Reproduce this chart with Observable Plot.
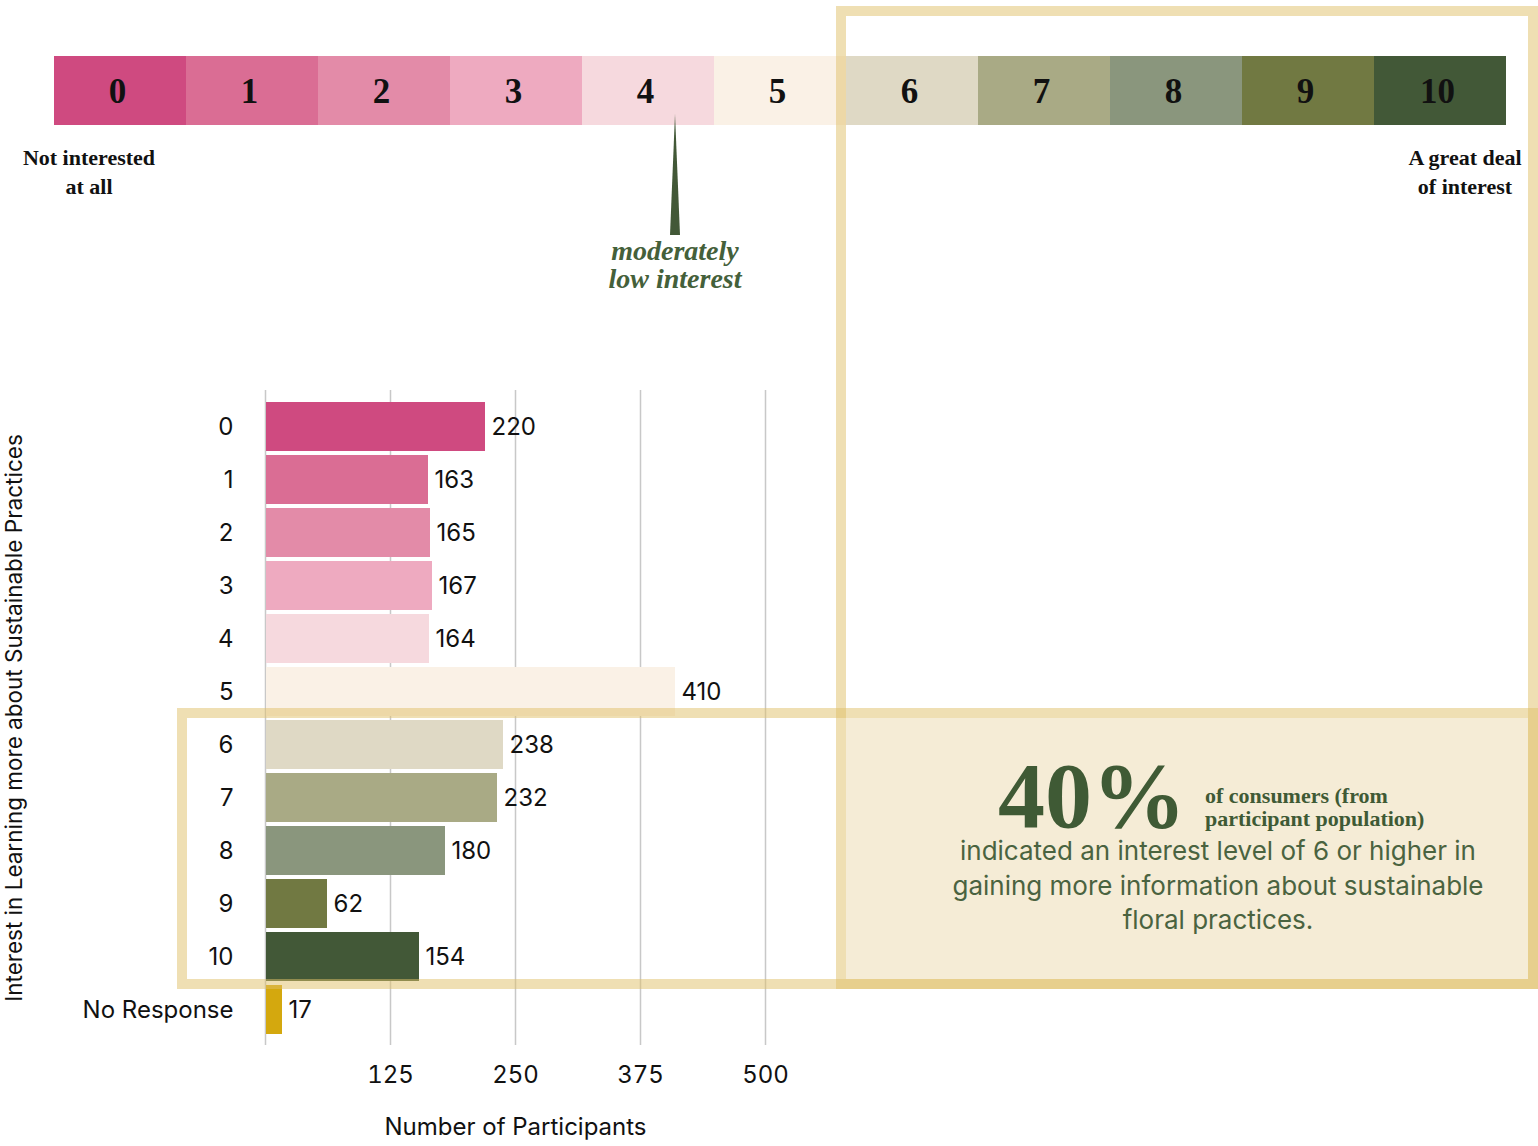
<!DOCTYPE html>
<html><head><meta charset="utf-8">
<script src="https://cdn.jsdelivr.net/npm/d3@7"></script>
<script src="https://cdn.jsdelivr.net/npm/@observablehq/plot@0.6"></script>
<style>
body{margin:0;background:#fff;}
#wrap{position:relative;width:1538px;height:1146px;overflow:hidden;background:#fff;}
#wrap > *{position:absolute;left:0;top:0;}
.box{box-sizing:border-box;border:10px solid rgba(224,192,104,0.5);}
</style></head><body><div id="wrap"></div>
<script>
// ---- data ----
const levels = ["0","1","2","3","4","5","6","7","8","9","10"];
const levelColors = ["#CF4A80","#DA6D94","#E38BA8","#EEAAC0","#F6D9DE","#FAF1E6","#DFD9C5","#A9AA85","#8A967D","#717942","#425837"];
const categories = ["0","1","2","3","4","5","6","7","8","9","10","No Response"];
const counts = [220,163,165,167,164,410,238,232,180,62,154,17];
const barColors = [...levelColors, "#D4A80E"];
const xTicks = [125,250,375,500];
const gridTicks = [0,125,250,375,500];
const scaleEnds = [["Not interested","at all"],["A great deal","of interest"]];
const pointerLabel = ["moderately","low interest"];
const bigStat = "40%";
const statSide = ["of consumers (from","participant population)"];
const statText = ["indicated an interest level of 6 or higher in","gaining more information about sustainable","floral practices."];

const SERIF = '"Liberation Serif","DejaVu Serif",serif';
const SANS = 'Inter, "Noto Sans", sans-serif';

const wrap = document.getElementById("wrap");

// ---- bar chart ----
const bars = categories.map((c,i)=>({category:c, count:counts[i], color:barColors[i]}));
const chart = Plot.plot({
  width:1538, height:1146,
  marginLeft:265, marginRight:1538-265-500, marginTop:390, marginBottom:101,
  style:{fontFamily:SANS, fontSize:"24px", color:"#111", background:"transparent", overflow:"visible"},
  x:{domain:[0,500]},
  y:{domain:categories, paddingInner:0.08, paddingOuter:0.16},
  color:{type:"identity"},
  marks:[
    Plot.gridX(gridTicks,{stroke:"#c8c8c8", strokeOpacity:1, strokeWidth:1.5}),
    Plot.barX(bars,{x:"count", y:"category", fill:"color", insetLeft:1}),
    Plot.text(bars,{x:"count", y:"category", text:d=>String(d.count), dx:6, textAnchor:"start", fill:"#111", fontSize:24}),
    Plot.axisX({ticks:xTicks, tickSize:0, tickPadding:20, fontSize:24, fill:"#111", label:"Number of Participants", labelAnchor:"center", labelOffset:89, labelArrow:"none"}),
    Plot.axisY({tickSize:0, tickPadding:32, fontSize:24, fill:"#111", label:null}),
    Plot.axisY({tickSize:0, text:null, fontSize:22.5, fill:"#111", label:"Interest in Learning more about Sustainable Practices", labelAnchor:"center", labelOffset:259, labelArrow:"none"})
  ]
});
wrap.appendChild(chart);

// ---- scale strip ----
const levelRows = levels.map((l,i)=>({level:l, color:levelColors[i]}));
const strip = Plot.plot({
  width:1538, height:130, marginLeft:53, marginRight:32, marginTop:56, marginBottom:5,
  style:{background:"transparent"},
  x:{type:"band", domain:levels, padding:0, axis:null},
  color:{type:"identity"},
  marks:[
    Plot.cell(levelRows,{x:"level", fill:"color"}),
    Plot.text(levelRows,{x:"level", text:"level", fontSize:35, fontWeight:"bold", fill:"#111", fontFamily:SERIF, dx:-3, dy:1})
  ]
});
wrap.appendChild(strip);

// ---- highlight boxes ----
function div(style, cls){const d=document.createElement("div"); if(cls) d.className=cls; Object.assign(d.style, style); wrap.appendChild(d); return d;}
div({left:"846px", top:"718px", width:"682px", height:"261px", background:"#F5ECD6"});
div({left:"836px", top:"6px", width:"702px", height:"983px"}, "box");
div({left:"177px", top:"708px", width:"1361px", height:"281px"}, "box");

// ---- annotations ----
const ns = "http://www.w3.org/2000/svg";
const svg = document.createElementNS(ns,"svg");
svg.setAttribute("width",1538); svg.setAttribute("height",1146);
wrap.appendChild(svg);
function t(str,x,y,attrs){const e=document.createElementNS(ns,"text"); e.textContent=str; e.setAttribute("x",x); e.setAttribute("y",y); for(const k in attrs) e.setAttribute(k,attrs[k]); svg.appendChild(e); return e;}
const endStyle = {"font-family":SERIF, "font-weight":"bold", "font-size":22, "text-anchor":"middle", fill:"#111"};
t(scaleEnds[0][0], 89, 165, endStyle); t(scaleEnds[0][1], 89, 194, endStyle);
t(scaleEnds[1][0], 1465, 165, endStyle); t(scaleEnds[1][1], 1465, 194, endStyle);
const poly = document.createElementNS(ns,"polygon");
poly.setAttribute("points","675,114 680,235 670,235"); poly.setAttribute("fill","#425837"); svg.appendChild(poly);
const ptrStyle = {"font-family":SERIF, "font-weight":"bold", "font-style":"italic", "font-size":28, "text-anchor":"middle", fill:"#44603A"};
t(pointerLabel[0], 675, 260, ptrStyle); t(pointerLabel[1], 675, 288, ptrStyle);
t(bigStat, 998, 827, {"font-family":SERIF, "font-weight":"bold", "font-size":94, fill:"#3F5A35"});
const sideStyle = {"font-family":SERIF, "font-weight":"bold", "font-size":22, fill:"#3F5A35"};
t(statSide[0], 1205, 803, sideStyle); t(statSide[1], 1205, 826, sideStyle);
const parStyle = {"font-family":SANS, "font-size":26, "text-anchor":"middle", fill:"#4A6340"};
statText.forEach((s,i)=>t(s, 1218, 860+i*34.5, parStyle));
</script></body></html>
